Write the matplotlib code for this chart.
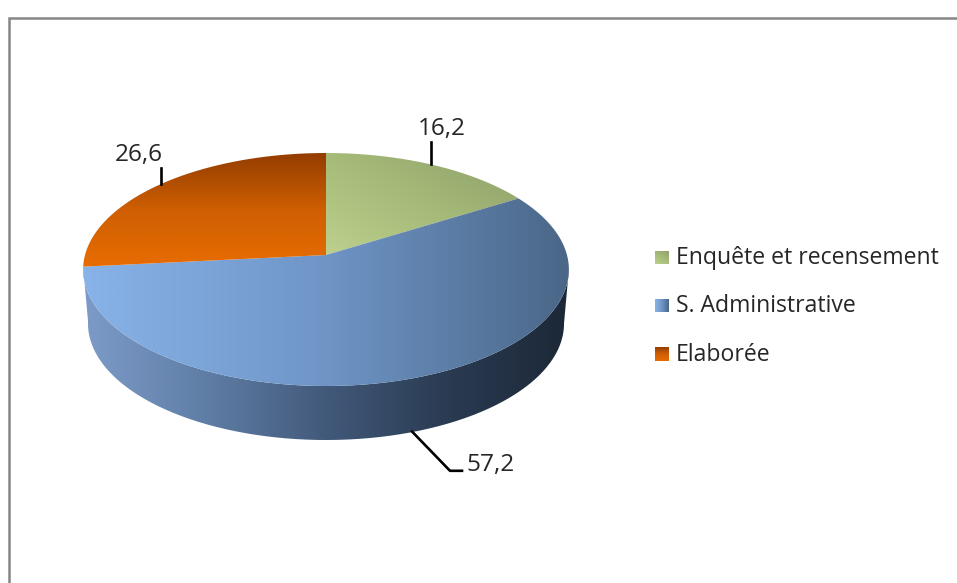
import numpy as np
import matplotlib
matplotlib.use('Agg')
import matplotlib.pyplot as plt
from matplotlib.path import Path
from matplotlib.patches import PathPatch, Rectangle
from matplotlib.colors import LinearSegmentedColormap

labels = ['Enquête et recensement', 'S. Administrative', 'Elaborée']
values = [16.2, 57.2, 26.6]
value_text = ['16,2', '57,2', '26,6']

W, H = 957, 583
CX, CY = 326, 255
BX, AY, P = 241.0, 114.7, 0.1245
DEPTH = 54


def project(t, scale=1.0, dy=0):
    # t is the angle clockwise from the top of the pie
    u, v = np.sin(t), np.cos(t)
    d = 1 + P * v
    return CX + scale * BX * u / d, CY + dy - AY * v / d


def fill_gradient(ax, verts, stops, angle):
    # gradient image clipped to the polygon, angle in degrees on screen
    cmap = LinearSegmentedColormap.from_list('g', stops)
    verts = np.array(verts)
    x0, y0 = verts.min(axis=0)
    x1, y1 = verts.max(axis=0)
    xx, yy = np.meshgrid(np.linspace(x0, x1, 300), np.linspace(y0, y1, 300))
    a = np.radians(angle)
    g = xx * np.cos(a) + yy * np.sin(a)
    g = (g - g.min()) / (g.max() - g.min())
    im = ax.imshow(g, cmap=cmap, extent=(x0, x1, y1, y0), aspect='auto', zorder=2,
                   interpolation='bilinear')
    patch = PathPatch(Path(verts), transform=ax.transData, fc='none', ec='none')
    ax.add_patch(patch)
    im.set_clip_path(patch)


fig = plt.figure(figsize=(W / 100, H / 100), dpi=100)
ax = fig.add_axes([0, 0, 1, 1])
ax.set_xlim(0, W)
ax.set_ylim(H, 0)
ax.axis('off')

ax.add_patch(Rectangle((9, 17.5), W + 20, H, fc='white', ec='#868686', lw=1.8, zorder=1))

# side wall of the pie, front half only
ts = np.radians(np.linspace(97, 264, 300))
rim = np.array(project(ts)).T
low = np.array(project(ts[::-1], 0.98, DEPTH)).T
fill_gradient(ax, np.vstack([rim, low]),
              ['#7d9bc8', '#5f7ea6', '#42597a', '#2a3b52', '#1c2837'], 0)

# top faces
stops = [['#bdd08e', '#a5ba78', '#8f9f6a'],
         ['#88b3e8', '#6f95c6', '#4a6788'],
         ['#e86c02', '#cf5f02', '#943d00']]
angles = [-60, 0, -90]
fracs = np.cumsum([0] + values) / sum(values)
for i, v in enumerate(values):
    t = 2 * np.pi * np.linspace(fracs[i], fracs[i + 1], 200)
    edge = np.array(project(t)).T
    fill_gradient(ax, np.vstack([[CX, CY], edge]), stops[i], angles[i])

# data labels with leader lines
ax.plot([431, 431], [142, 164], color='black', lw=1.9, zorder=3)
ax.plot([160.5, 160.5], [168, 184], color='black', lw=1.9, zorder=3)
ax.plot([412, 450, 462], [431.5, 470.8, 470.8], color='black', lw=1.9, zorder=3)
font = dict(family='Open Sans', color='#262626', zorder=4)
ax.text(442, 129, value_text[0], ha='center', va='center', fontsize=17.6, **font)
ax.text(138.5, 155, value_text[2], ha='center', va='center', fontsize=17.6, **font)
ax.text(466, 465, value_text[1], ha='left', va='center', fontsize=17.6, **font)

# legend
for lab, col, ang, y in zip(labels, stops, angles, [257.5, 305.5, 354]):
    box = [(655, y - 7), (669, y - 7), (669, y + 7), (655, y + 7)]
    fill_gradient(ax, box, col, ang)
    ax.text(676, y + 1, lab, ha='left', va='center', fontsize=16.6, **font)

ax.set_xlim(0, W)
ax.set_ylim(H, 0)
fig.savefig('out.png', dpi=100)
